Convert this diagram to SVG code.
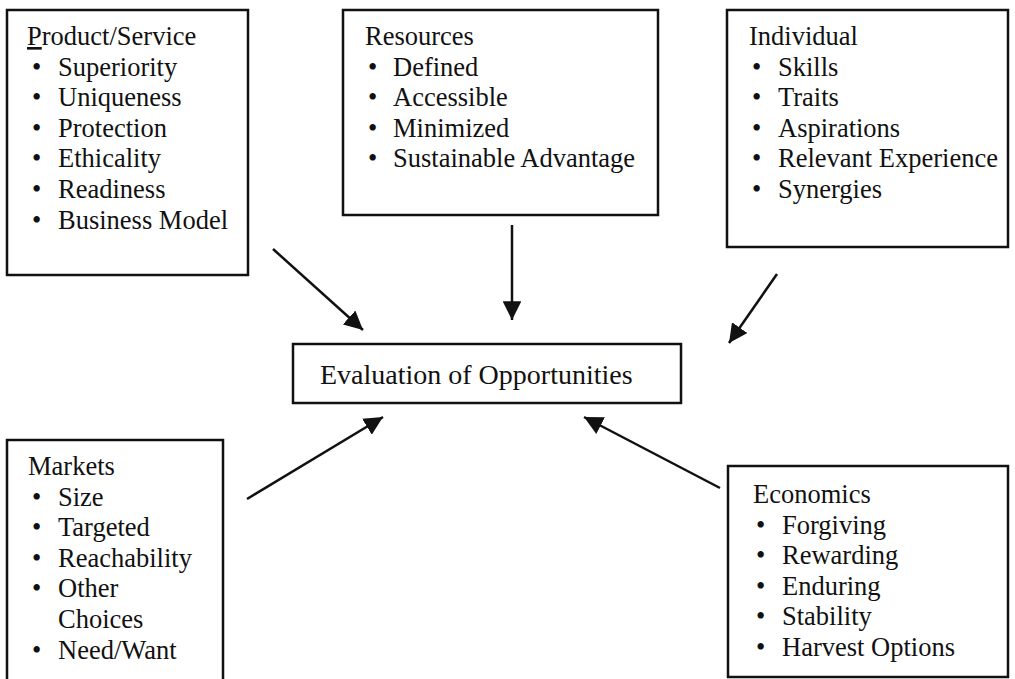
<svg xmlns="http://www.w3.org/2000/svg" width="1015" height="679" viewBox="0 0 1015 679">
<style>
.box{fill:#fff;stroke:#111;stroke-width:2.5}
.t{font-family:"Liberation Serif","Times New Roman",serif;font-size:26.5px;fill:#111}
.c{font-family:"Liberation Serif","Times New Roman",serif;font-size:28px;fill:#111}
.arr{stroke:#111;stroke-width:2.5;fill:none;marker-end:url(#ah)}
</style>
<defs>
<marker id="ah" viewBox="0 0 10 10" refX="10" refY="5" markerWidth="7.5" markerHeight="7.5" markerUnits="strokeWidth" orient="auto">
<path d="M0,0 L10,5 L0,10 z" fill="#111"/>
</marker>
</defs>
<rect width="1015" height="679" fill="#fff"/>
<g id="product">
<rect class="box" x="7" y="10" width="241" height="265"/>
<text class="t" x="27" y="45"><tspan text-decoration="underline">P</tspan>roduct/Service</text>
<text class="t"><tspan x="32" y="75.6">•</tspan><tspan x="58" y="75.6">Superiority</tspan><tspan x="32" y="106.2">•</tspan><tspan x="58" y="106.2">Uniqueness</tspan><tspan x="32" y="136.8">•</tspan><tspan x="58" y="136.8">Protection</tspan><tspan x="32" y="167.4">•</tspan><tspan x="58" y="167.4">Ethicality</tspan><tspan x="32" y="198">•</tspan><tspan x="58" y="198">Readiness</tspan><tspan x="32" y="228.6">•</tspan><tspan x="58" y="228.6">Business Model</tspan></text>
</g>
<g id="resources">
<rect class="box" x="343" y="10" width="315" height="205"/>
<text class="t" x="365" y="45">Resources</text>
<text class="t"><tspan x="368" y="75.6">•</tspan><tspan x="393" y="75.6">Defined</tspan><tspan x="368" y="106.2">•</tspan><tspan x="393" y="106.2">Accessible</tspan><tspan x="368" y="136.8">•</tspan><tspan x="393" y="136.8">Minimized</tspan><tspan x="368" y="167.4">•</tspan><tspan x="393" y="167.4">Sustainable Advantage</tspan></text>
</g>
<g id="individual">
<rect class="box" x="727" y="10" width="281" height="237"/>
<text class="t" x="749" y="45">Individual</text>
<text class="t"><tspan x="752" y="75.6">•</tspan><tspan x="778" y="75.6">Skills</tspan><tspan x="752" y="106.2">•</tspan><tspan x="778" y="106.2">Traits</tspan><tspan x="752" y="136.8">•</tspan><tspan x="778" y="136.8">Aspirations</tspan><tspan x="752" y="167.4">•</tspan><tspan x="778" y="167.4">Relevant Experience</tspan><tspan x="752" y="198">•</tspan><tspan x="778" y="198">Synergies</tspan></text>
</g>
<g id="evaluation">
<rect class="box" x="293" y="344" width="388" height="59"/>
<text class="c" x="320" y="384">Evaluation of Opportunities</text>
</g>
<g id="markets">
<rect class="box" x="7" y="440" width="216" height="260"/>
<text class="t" x="28" y="475">Markets</text>
<text class="t"><tspan x="32" y="505.6">•</tspan><tspan x="58" y="505.6">Size</tspan><tspan x="32" y="536.2">•</tspan><tspan x="58" y="536.2">Targeted</tspan><tspan x="32" y="566.8">•</tspan><tspan x="58" y="566.8">Reachability</tspan><tspan x="32" y="597.4">•</tspan><tspan x="58" y="597.4">Other</tspan><tspan x="58" y="628">Choices</tspan><tspan x="32" y="658.6">•</tspan><tspan x="58" y="658.6">Need/Want</tspan></text>
</g>
<g id="economics">
<rect class="box" x="728" y="466" width="280" height="211"/>
<text class="t" x="753" y="503">Economics</text>
<text class="t"><tspan x="756" y="533.6">•</tspan><tspan x="782" y="533.6">Forgiving</tspan><tspan x="756" y="564.2">•</tspan><tspan x="782" y="564.2">Rewarding</tspan><tspan x="756" y="594.8">•</tspan><tspan x="782" y="594.8">Enduring</tspan><tspan x="756" y="625.4">•</tspan><tspan x="782" y="625.4">Stability</tspan><tspan x="756" y="656">•</tspan><tspan x="782" y="656">Harvest Options</tspan></text>
</g>
<g id="connectors">
<line class="arr" x1="273" y1="249" x2="363" y2="330"/>
<line class="arr" x1="512" y1="225" x2="512" y2="320"/>
<line class="arr" x1="777" y1="274" x2="729" y2="343"/>
<line class="arr" x1="247" y1="499" x2="383" y2="417"/>
<line class="arr" x1="720" y1="488" x2="584" y2="417"/>
</g>
</svg>
